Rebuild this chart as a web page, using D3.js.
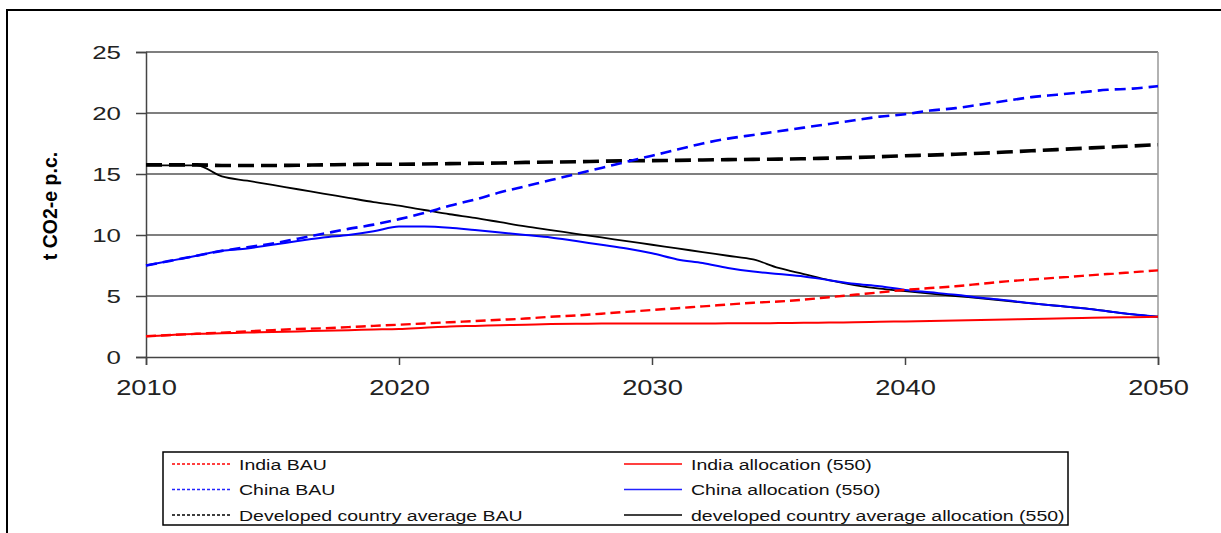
<!DOCTYPE html>
<html>
<head>
<meta charset="utf-8">
<script src="https://cdn.jsdelivr.net/npm/d3@7"></script>
<style>
  body { margin: 0; background: #fff; }
  svg { display: block; font-family: "Liberation Sans", Arial, sans-serif; }
</style>
</head>
<body>
<div id="vis"></div>
<script>
// Data (t CO2-e per capita, 2010..2050)
var years = d3.range(2010, 2051);

var indiaBAU = [1.7, 1.8, 1.9, 2.0, 2.1, 2.2, 2.3, 2.35, 2.45, 2.55,
  2.65, 2.75, 2.85, 2.95, 3.05, 3.15, 3.3, 3.4, 3.55, 3.7,
  3.85, 4.0, 4.15, 4.3, 4.45, 4.55, 4.7, 4.9, 5.1, 5.3,
  5.5, 5.65, 5.8, 6.0, 6.2, 6.35, 6.5, 6.65, 6.8, 6.95, 7.1];

var indiaAlloc = [1.7, 1.8, 1.9, 1.95, 2.0, 2.05, 2.1, 2.15, 2.2, 2.25,
  2.3, 2.4, 2.5, 2.55, 2.6, 2.65, 2.7, 2.72, 2.74, 2.75,
  2.75, 2.75, 2.75, 2.76, 2.76, 2.78, 2.8, 2.82, 2.85, 2.88,
  2.92, 2.96, 3.0, 3.04, 3.08, 3.12, 3.16, 3.2, 3.23, 3.26, 3.3];

var chinaBAU = [7.5, 7.9, 8.3, 8.7, 9.0, 9.3, 9.7, 10.1, 10.5, 10.85,
  11.3, 11.8, 12.4, 12.9, 13.5, 14.0, 14.5, 15.0, 15.5, 16.0,
  16.5, 17.0, 17.5, 17.9, 18.2, 18.5, 18.8, 19.1, 19.4, 19.7,
  19.9, 20.2, 20.4, 20.7, 21.0, 21.3, 21.5, 21.7, 21.9, 22.0, 22.2];

var chinaAlloc = [7.5, 7.9, 8.3, 8.7, 8.9, 9.2, 9.5, 9.8, 10.0, 10.3,
  10.7, 10.7, 10.6, 10.4, 10.2, 10.0, 9.8, 9.5, 9.2, 8.9,
  8.5, 8.0, 7.7, 7.3, 7.0, 6.8, 6.6, 6.3, 6.0, 5.8,
  5.5, 5.3, 5.1, 4.85, 4.65, 4.4, 4.2, 4.0, 3.75, 3.5, 3.3];

var devBAU = [15.75, 15.75, 15.75, 15.7, 15.7, 15.7, 15.72, 15.75, 15.78, 15.8,
  15.8, 15.82, 15.85, 15.88, 15.9, 15.95, 15.98, 16.0, 16.05, 16.08,
  16.1, 16.12, 16.15, 16.18, 16.2, 16.22, 16.25, 16.3, 16.35, 16.42,
  16.5, 16.55, 16.62, 16.7, 16.8, 16.9, 17.0, 17.1, 17.2, 17.3, 17.4];

var devAlloc = [15.7, 15.7, 15.7, 14.8, 14.45, 14.1, 13.75, 13.4, 13.05, 12.7,
  12.4, 12.05, 11.7, 11.4, 11.05, 10.7, 10.4, 10.1, 9.8, 9.5,
  9.2, 8.9, 8.6, 8.3, 8.0, 7.3, 6.8, 6.3, 5.9, 5.6,
  5.4, 5.2, 5.0, 4.8, 4.6, 4.4, 4.2, 4.0, 3.75, 3.5, 3.3];

var yTicks = [0, 5, 10, 15, 20, 25];
var xTicks = [2010, 2020, 2030, 2040, 2050];

var seriesNames = ["India BAU", "India allocation (550)", "China BAU",
  "China allocation (550)", "Developed country average BAU",
  "developed country average allocation (550)"];

var width = 1221, height = 533;

var svg = d3.select("#vis").append("svg")
    .attr("width", width)
    .attr("height", height);

// outer frame (top and left edges visible)
svg.append("path")
    .attr("d", "M7,533 L7,10 L1221,10")
    .attr("fill", "none")
    .attr("stroke", "#000")
    .attr("stroke-width", 2);

var x = d3.scaleLinear().domain([2010, 2050]).range([146, 1158]);
var y = d3.scaleLinear().domain([0, 25]).range([357, 52]);

// gridlines
svg.append("g")
    .selectAll("line")
    .data(yTicks.filter(function(d) { return d > 0; }))
    .enter().append("line")
    .attr("x1", x(2010)).attr("x2", x(2050))
    .attr("y1", function(d) { return y(d); })
    .attr("y2", function(d) { return y(d); })
    .attr("stroke", "#555")
    .attr("stroke-width", 1.4);

// right frame of plot area
svg.append("line")
    .attr("x1", x(2050)).attr("x2", x(2050))
    .attr("y1", y(25)).attr("y2", y(0))
    .attr("stroke", "#999")
    .attr("stroke-width", 1.5);

// axes
var yAxis = svg.append("g")
    .attr("transform", "translate(" + x(2010) + ",0)")
    .call(d3.axisLeft(y).tickValues(yTicks).tickSize(10).tickPadding(0));

yAxis.selectAll("text")
    .attr("x", 0)
    .attr("dy", "0.36em")
    .attr("transform", "translate(-25,0) scale(1.4,1)")
    .style("font-size", "18.5px")
    .attr("fill", "#222");

var xAxis = svg.append("g")
    .attr("transform", "translate(0," + y(0) + ")")
    .call(d3.axisBottom(x).tickValues(xTicks).tickFormat(d3.format("d")).tickSize(8).tickPadding(0));

xAxis.selectAll("text")
    .attr("y", 0)
    .attr("dy", 0)
    .attr("transform", "translate(0,38) scale(1.27,1)")
    .style("font-size", "21.5px")
    .attr("fill", "#222");

svg.selectAll(".domain, .tick line")
    .attr("stroke", "#444")
    .attr("stroke-width", 1.5);

// y axis title
svg.append("text")
    .attr("transform", "translate(57,206) rotate(-90)")
    .attr("text-anchor", "middle")
    .style("font-size", "19.5px")
    .style("font-weight", "bold")
    .text("t CO2-e p.c.");

// lines
var line = d3.line()
    .x(function(d, i) { return x(years[i]); })
    .y(function(d) { return y(d); })
    .curve(d3.curveMonotoneX);

var series = [
  { name: seriesNames[5], values: devAlloc, color: "#000", width: 1.8, dash: null },
  { name: seriesNames[4], values: devBAU, color: "#000", width: 3.6, dash: "16,7" },
  { name: seriesNames[3], values: chinaAlloc, color: "#0000ff", width: 2, dash: null },
  { name: seriesNames[2], values: chinaBAU, color: "#0000ff", width: 2.6, dash: "11,6" },
  { name: seriesNames[1], values: indiaAlloc, color: "#ff0000", width: 2, dash: null },
  { name: seriesNames[0], values: indiaBAU, color: "#ff0000", width: 2.4, dash: "10,5" }
];

svg.append("g")
    .selectAll("path")
    .data(series)
    .enter().append("path")
    .attr("d", function(d) { return line(d.values); })
    .attr("fill", "none")
    .attr("stroke", function(d) { return d.color; })
    .attr("stroke-width", function(d) { return d.width; })
    .attr("stroke-dasharray", function(d) { return d.dash; });

// legend
var legendItems = [
  { name: seriesNames[0], color: "#ff0000", dash: "3,2", col: 0, row: 0 },
  { name: seriesNames[2], color: "#2222ff", dash: "3,2", col: 0, row: 1 },
  { name: seriesNames[4], color: "#000000", dash: "3,2", col: 0, row: 2 },
  { name: seriesNames[1], color: "#ff0000", dash: null, col: 1, row: 0 },
  { name: seriesNames[3], color: "#2222ff", dash: null, col: 1, row: 1 },
  { name: seriesNames[5], color: "#000000", dash: null, col: 1, row: 2 }
];

var legend = svg.append("g");

legend.append("rect")
    .attr("x", 163).attr("y", 452)
    .attr("width", 905).attr("height", 73)
    .attr("fill", "#fff")
    .attr("stroke", "#000")
    .attr("stroke-width", 1.5);

var colX = [[172, 232, 239], [624, 682, 691]];

legend.selectAll("line.key")
    .data(legendItems)
    .enter().append("line")
    .attr("class", "key")
    .attr("x1", function(d) { return colX[d.col][0]; })
    .attr("x2", function(d) { return colX[d.col][1]; })
    .attr("y1", function(d) { return 464 + d.row * 25.5; })
    .attr("y2", function(d) { return 464 + d.row * 25.5; })
    .style("stroke", function(d) { return d.color; })
    .style("stroke-width", "1.4px")
    .style("stroke-dasharray", function(d) { return d.dash ? d.dash : "none"; });

legend.selectAll("text.key")
    .data(legendItems)
    .enter().append("text")
    .attr("class", "key")
    .attr("transform", function(d) {
        return "translate(" + colX[d.col][2] + "," + (469.5 + d.row * 25.5) + ") scale(1.3,1)";
    })
    .style("font-size", "15px")
    .attr("fill", "#111")
    .text(function(d) { return d.name; });
</script>
</body>
</html>
